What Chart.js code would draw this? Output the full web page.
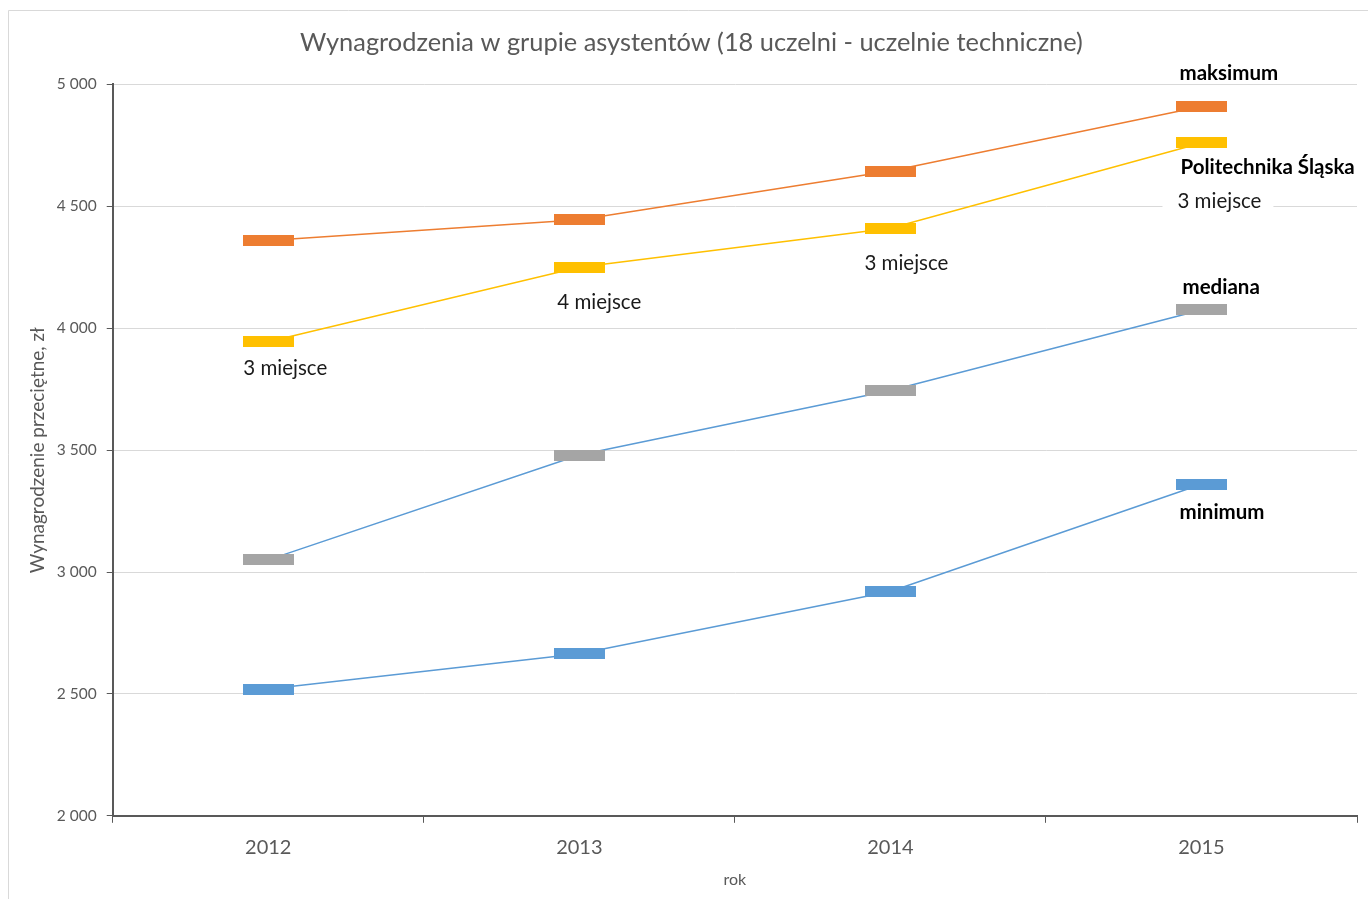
<!DOCTYPE html>
<html lang="pl">
<head>
<meta charset="utf-8">
<title>Wynagrodzenia w grupie asystentów</title>
<script src="https://cdn.jsdelivr.net/npm/chart.js@4/dist/chart.umd.min.js"></script>
<style>
  html, body { margin: 0; padding: 0; background: #fff; }
  #wykres { display: block; }
</style>
</head>
<body>
<canvas id="wykres" width="1368" height="899"></canvas>
<script>
// dane
var lata = ['2012', '2013', '2014', '2015']
var maksimum = [4360, 4445, 4645, 4910]
var politechnikaSlaska = [3945, 4250, 4410, 4760]
var mediana = [3050, 3480, 3745, 4075]
var minimum = [2520, 2665, 2920, 3360]
var miejscaPS = ['3 miejsce', '4 miejsce', '3 miejsce', '3 miejsce']
var ticksY = [2000, 2500, 3000, 3500, 4000, 4500, 5000]

var FONT = 'Lato, "Liberation Sans", sans-serif'
var SZARY = '#595959'

/**
* @description: tworzy prostokatny znacznik punktu (kreska) w danym kolorze
*/
function znacznik(kolor){
    var c = document.createElement('canvas')
    c.width = 51
    c.height = 11
    var ctx = c.getContext('2d')
    ctx.fillStyle = kolor
    ctx.fillRect(0, 0, c.width, c.height)
    return c
}

function formatTys(v){
    return String(v).replace(/\B(?=(\d{3})+(?!\d))/g, ' ')
}

// opisy przy punktach: seria, punkt, tekst, przesuniecie od punktu
var opisy = [
    { ds: 0, i: 3, text: 'maksimum', bold: true, dx: -22, dy: -33 },
    { ds: 1, i: 3, text: 'Politechnika Śląska', bold: true, dx: -21, dy: 24 },
    { ds: 1, i: 3, text: miejscaPS[3], bold: false, dx: -24, dy: 58, tlo: true },
    { ds: 1, i: 0, text: miejscaPS[0], bold: false, dx: -25, dy: 27 },
    { ds: 1, i: 1, text: miejscaPS[1], bold: false, dx: -22, dy: 35 },
    { ds: 1, i: 2, text: miejscaPS[2], bold: false, dx: -26, dy: 35 },
    { ds: 2, i: 3, text: 'mediana', bold: true, dx: -19, dy: -23 },
    { ds: 3, i: 3, text: 'minimum', bold: true, dx: -22, dy: 28 }
]

var ramka = {
    id: 'ramka',
    beforeDraw: function(chart){
        var ctx = chart.ctx
        ctx.save()
        ctx.fillStyle = '#fff'
        ctx.fillRect(0, 0, chart.width, chart.height)
        ctx.strokeStyle = '#D9D9D9'
        ctx.lineWidth = 1
        ctx.beginPath()
        ctx.moveTo(8.5, chart.height)
        ctx.lineTo(8.5, 10.5)
        ctx.lineTo(chart.width, 10.5)
        ctx.stroke()
        ctx.restore()
    }
}

var etykiety = {
    id: 'etykiety',
    afterDatasetsDraw: function(chart){
        var ctx = chart.ctx
        ctx.save()
        ctx.textBaseline = 'middle'
        ctx.textAlign = 'left'
        opisy.forEach(function(o){
            var p = chart.getDatasetMeta(o.ds).data[o.i]
            var x = p.x + o.dx
            var y = p.y + o.dy
            ctx.font = (o.bold ? 'bold ' : '') + '20.5px ' + FONT
            if(o.tlo){
                var w = ctx.measureText(o.text).width
                ctx.fillStyle = '#fff'
                ctx.fillRect(x - 15, y - 11, w + 27, 22)
            }
            ctx.fillStyle = o.bold ? '#000' : '#1a1a1a'
            ctx.fillText(o.text, x, y)
        })
        ctx.restore()
    }
}

function seria(label, dane, kolorLinii, kolorZnacznika){
    return {
        label: label,
        data: dane,
        borderColor: kolorLinii,
        backgroundColor: kolorZnacznika,
        borderWidth: 1.5,
        pointStyle: znacznik(kolorZnacznika),
        pointRadius: 6,
        pointHoverRadius: 6,
        tension: 0,
        fill: false
    }
}

new Chart(document.getElementById('wykres').getContext('2d'), {
    type: 'line',
    data: {
        labels: lata,
        datasets: [
            seria('maksimum', maksimum, '#ED7D31', '#ED7D31'),
            seria('Politechnika Śląska', politechnikaSlaska, '#FFC000', '#FFC000'),
            seria('mediana', mediana, '#5B9BD5', '#A5A5A5'),
            seria('minimum', minimum, '#5B9BD5', '#5B9BD5')
        ]
    },
    options: {
        responsive: false,
        animation: false,
        layout: { padding: { left: 26, right: 11, top: 0, bottom: 10 } },
        plugins: {
            legend: { display: false },
            tooltip: { enabled: false },
            title: {
                display: true,
                text: 'Wynagrodzenia w grupie asystentów (18 uczelni - uczelnie techniczne)',
                color: SZARY,
                font: { family: FONT, size: 25.4, weight: 'normal' },
                padding: { top: 28, bottom: 26 }
            }
        },
        scales: {
            x: {
                offset: true,
                grid: {
                    display: true,
                    offset: true,
                    drawOnChartArea: false,
                    color: SZARY,
                    tickLength: 7
                },
                border: { display: true, color: SZARY, width: 2 },
                ticks: { color: SZARY, padding: 13, font: { family: FONT, size: 20 } },
                title: {
                    display: true,
                    text: 'rok',
                    color: SZARY,
                    font: { family: FONT, size: 16 },
                    padding: { top: -3, bottom: 0 }
                }
            },
            y: {
                min: 2000,
                max: 5000,
                afterBuildTicks: function(axis){
                    axis.ticks = ticksY.map(function(v){ return { value: v } })
                },
                grid: {
                    color: '#D9D9D9',
                    tickColor: SZARY,
                    tickLength: 6
                },
                border: { display: true, color: SZARY, width: 2 },
                ticks: {
                    color: SZARY,
                    padding: 10,
                    font: { family: FONT, size: 15.5 },
                    callback: function(v){ return formatTys(v) }
                },
                title: {
                    display: true,
                    text: 'Wynagrodzenie przeciętne, zł',
                    color: SZARY,
                    font: { family: FONT, size: 19 },
                    padding: { top: 0, bottom: -2 }
                }
            }
        }
    },
    plugins: [ramka, etykiety]
})
</script>
</body>
</html>
